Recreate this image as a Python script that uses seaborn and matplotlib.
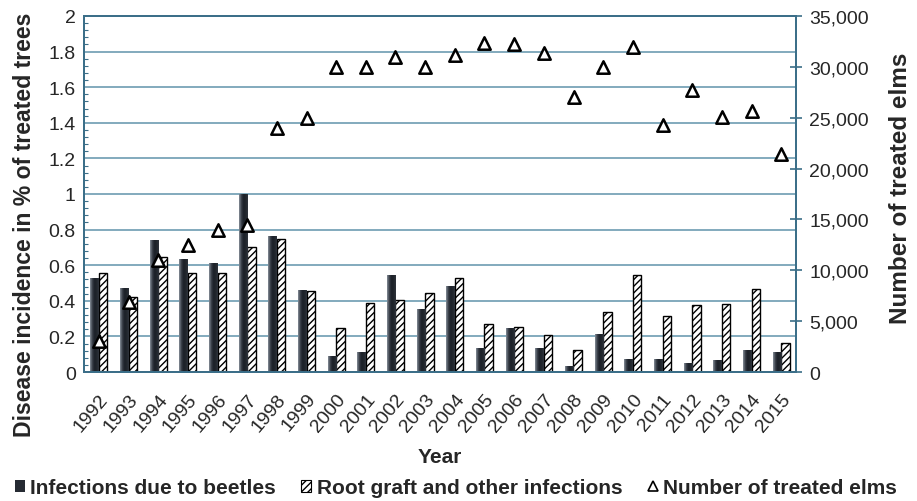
import numpy as np
import pandas as pd
import matplotlib
matplotlib.use("Agg")
import matplotlib.pyplot as plt
import matplotlib.ticker as mticker
from matplotlib.patches import Patch
from matplotlib.lines import Line2D
from matplotlib.colors import LinearSegmentedColormap
import seaborn as sns

# ---------------- data ----------------
years = [str(y) for y in range(1992, 2016)]
beetles = [0.53, 0.47, 0.74, 0.635, 0.615, 1.00, 0.765, 0.46, 0.09, 0.11, 0.545, 0.355,
           0.485, 0.133, 0.247, 0.133, 0.036, 0.212, 0.075, 0.075, 0.051, 0.066, 0.124, 0.11]
rootgraft = [0.555, 0.42, 0.645, 0.555, 0.555, 0.70, 0.745, 0.453, 0.247, 0.386, 0.406, 0.446,
             0.526, 0.268, 0.251, 0.206, 0.125, 0.337, 0.547, 0.316, 0.376, 0.380, 0.464, 0.165]
treated = [3000, 6900, 11000, 12500, 14000, 14500, 24000, 25000, 30000, 30000, 31000, 30000,
           31200, 32300, 32200, 31400, 27000, 30000, 32000, 24300, 27700, 25100, 25700, 21400]
series_names = ["Infections due to beetles", "Root graft and other infections", "Number of treated elms"]
left_ticks = [0, 0.2, 0.4, 0.6, 0.8, 1, 1.2, 1.4, 1.6, 1.8, 2]
right_ticks = [0, 5000, 10000, 15000, 20000, 25000, 30000, 35000]

# ---------------- style ----------------
sns.set_style("white")
plt.rcParams["font.family"] = ["Liberation Sans", "DejaVu Sans"]
plt.rcParams["hatch.linewidth"] = 1.0

SPINE = "#3b6e88"
GRID = "#6d9cb1"
DARK = "#262b33"

bars_df = pd.DataFrame({
    "Year": years * 2,
    "Series": [series_names[0]] * len(years) + [series_names[1]] * len(years),
    "Value": beetles + rootgraft,
})
pts_df = pd.DataFrame({"Year": years, "Treated": treated})

fig = plt.figure(figsize=(9.17, 5.02), dpi=100)
ax = fig.add_axes([84 / 917, 1 - 373 / 502, (796 - 84) / 917, (373 - 17) / 502])

sns.barplot(data=bars_df, x="Year", y="Value", hue="Series",
            palette=[DARK, "white"], width=0.57, ax=ax, legend=False,
            saturation=1, gap=0)

ax.set_ylim(0, 2)
ax.set_xlim(-0.5, len(years) - 0.5)
ax.set_yticks(left_ticks)
ax.yaxis.set_major_formatter(mticker.FuncFormatter(lambda v, p: f"{v:g}"))
ax.yaxis.set_minor_locator(mticker.MultipleLocator(0.04))
ax.grid(axis="y", color=GRID, linewidth=1.2)
ax.set_axisbelow(True)

# style bars
cmap = LinearSegmentedColormap.from_list("g", ["#8a939d", "#3a404a", "#1b2027", "#20252c", "#2f343c"])
grad = np.linspace(0, 1, 64).reshape(1, -1)
n = len(years)
patches = list(ax.patches)
for i, p in enumerate(patches):
    if i < n:
        p.set_facecolor("none")
        p.set_edgecolor("none")
        x0, y0 = p.get_x(), p.get_y()
        w, h = p.get_width(), p.get_height()
        im = ax.imshow(grad, extent=[x0, x0 + w, y0, y0 + h], cmap=cmap,
                       aspect="auto", zorder=2, interpolation="bicubic")
        im.set_clip_path(p)
    else:
        p.set_facecolor("white")
        p.set_edgecolor("black")
        p.set_hatch("/////")
        p.set_linewidth(1.0)
        p.set_zorder(2)
ax.set_xlim(-0.5, len(years) - 0.5)
ax.set_ylim(0, 2)

# x ticks: labels at centers, marks at boundaries
ax.set_xticks(range(n))
ax.set_xticklabels(years, rotation=50, ha="right", rotation_mode="anchor", fontsize=14)
ax.tick_params(axis="x", which="major", length=0, pad=13)
ax.set_xticks(np.arange(-0.5, n, 1.0), minor=True)
ax.tick_params(axis="x", which="minor", length=9, direction="inout", color=SPINE, width=1.2)
ax.tick_params(axis="y", which="major", length=0, labelsize=14, pad=6)
ax.tick_params(axis="y", which="minor", length=3, direction="in", color=SPINE, width=0.8, left=True)

for s in ax.spines.values():
    s.set_color(SPINE)
    s.set_linewidth(1.3)

ax.set_xlabel("Year", fontsize=15, fontweight="bold", labelpad=9)
ax.set_ylabel("Disease incidence in % of treated trees", fontsize=16.6, fontweight="bold")
ax.yaxis.set_label_coords(-0.068, 0.415)

# secondary axis
ax2 = ax.twinx()
sns.scatterplot(data=pts_df, x="Year", y="Treated", marker="^", s=80,
                facecolor="white", edgecolor="black", linewidth=1.8, ax=ax2, zorder=5)
ax2.set_ylim(0, 35000)
ax2.set_xlim(-0.5, n - 0.5)
ax2.set_yticks(right_ticks)
ax2.yaxis.set_major_formatter(mticker.FuncFormatter(lambda v, p: f"{int(v):,}"))
ax2.tick_params(axis="y", which="major", length=9, direction="inout", color=SPINE,
                width=1.2, labelsize=14, pad=5)
ax2.set_ylabel("Number of treated elms", fontsize=17.5, fontweight="bold")
ax2.yaxis.set_label_coords(1.13, 0.52)
ax2.set_xlabel("")
for s in ax2.spines.values():
    s.set_color(SPINE)
    s.set_linewidth(1.3)

# legend
handles = [
    Patch(facecolor=DARK, edgecolor="none"),
    Patch(facecolor="white", edgecolor="black", hatch="/////", linewidth=0.8),
    Line2D([], [], marker="^", linestyle="none", markerfacecolor="white",
           markeredgecolor="black", markersize=7, markeredgewidth=1.2),
]
fig.legend(handles, series_names, loc="lower center", bbox_to_anchor=(0.497, -0.03), ncol=3,
           frameon=False, prop={"weight": "bold", "size": 15}, handlelength=0.5,
           handleheight=0.55, handletextpad=0.25, columnspacing=1.2)

fig.savefig("out.png", dpi=100)
